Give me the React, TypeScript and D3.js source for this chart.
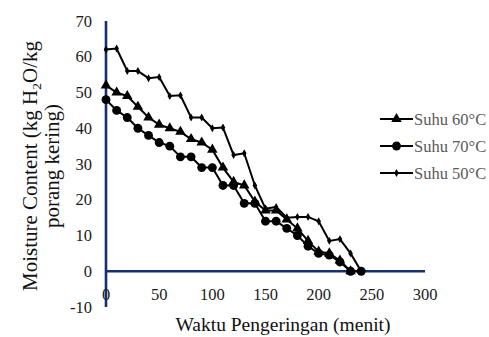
import React from "react";
import * as d3 from "d3";

const time60 = [0,10,20,30,40,50,60,70,80,90,100,110,120,130,140,150,160,170,180,190,200,210,220,230];
const suhu60 = [52,50,49,46,43,41,40,39,37,36,34,29,25,24,19.5,17,17,14.5,12,8.5,5.5,5,3,0];
const time70 = [0,10,20,30,40,50,60,70,80,90,100,110,120,130,140,150,160,170,180,190,200,210,220,230,240];
const suhu70 = [48,45,43,40,38,36,35,32,32,29,29,24,24,19,19,14,14,12,10,7,5,4.5,2.6,0,0];
const time50 = [0,10,20,30,40,50,60,70,80,90,100,110,120,130,140,150,160,170,180,190,200,210,220,230,240];
const suhu50 = [62,62.3,56,56,54,54.3,49,49.2,43,43,40,40.2,32.5,33,24,17.5,18,15,15.2,15.2,14,8.5,9,5,0];

const xTicks = [0,50,100,150,200,250,300];
const yTicks = [-10,0,10,20,30,40,50,60,70];
const seriesNames = ["Suhu 60°C","Suhu 70°C","Suhu 50°C"];

const W = 489, H = 337;
const x = d3.scaleLinear().domain([0,300]).range([106,425]);
const y = d3.scaleLinear().domain([-10,70]).range([307,21]);
const AXIS = "#15306e";
const FONT = "'Liberation Serif', 'Times New Roman', serif";

type S = { name: string; t: number[]; v: number[]; sym: d3.SymbolType; size: number };
const series: S[] = [
  { name: seriesNames[0], t: time60, v: suhu60, sym: d3.symbolTriangle, size: 48 },
  { name: seriesNames[1], t: time70, v: suhu70, sym: d3.symbolCircle, size: 62 },
  { name: seriesNames[2], t: time50, v: suhu50, sym: d3.symbolDiamond, size: 18 },
];

export default function App() {
  const line = d3.line<[number, number]>().x(d => x(d[0])).y(d => y(d[1]));
  return (
    <svg width={W} height={H} style={{ position: "absolute", left: 0, top: 0, background: "#fff", fontFamily: FONT }}>
      {/* axes */}
      <line x1={x(0)} x2={x(0)} y1={y(70)} y2={y(-10)} stroke={AXIS} strokeWidth={2.6} />
      <line x1={x(0)} x2={x(300)} y1={y(0)} y2={y(0)} stroke={AXIS} strokeWidth={2.4} />
      {yTicks.map(t => (
        <text key={"y"+t} x={92} y={y(t)} textAnchor="end" dominantBaseline="central" fontSize={16.5} fill="#1a1a1a">{t}</text>
      ))}
      {xTicks.map(t => (
        <text key={"x"+t} x={x(t)} y={294} textAnchor="middle" dominantBaseline="central" fontSize={16.5} fill="#1a1a1a">{t}</text>
      ))}
      <text x={283} y={331} textAnchor="middle" fontSize={19.5} fill="#111">Waktu Pengeringan (menit)</text>
      <g transform="translate(37,166) rotate(-90)">
        <text x={0} y={0} textAnchor="middle" fontSize={21} fill="#111">
          Moisture Content (kg H<tspan fontSize={13.5} baselineShift="-4">2</tspan>O/kg
        </text>
        <text x={0} y={22} textAnchor="middle" fontSize={21} fill="#111">porang kering)</text>
      </g>
      {/* series */}
      {series.map(s => {
        const pts = s.t.map((t, i) => [t, s.v[i]] as [number, number]);
        const sym = d3.symbol().type(s.sym).size(s.size)();
        return (
          <g key={s.name}>
            <path d={line(pts) || ""} fill="none" stroke="#000" strokeWidth={2} />
            {pts.map((p, i) => (
              <path key={i} d={sym || ""} transform={`translate(${x(p[0])},${y(p[1])})`} fill="#000" />
            ))}
          </g>
        );
      })}
      {/* legend */}
      {series.map((s, i) => {
        const ly = 119 + i * 27;
        const sym = d3.symbol().type(s.sym).size(s.size)();
        return (
          <g key={"l"+s.name}>
            <line x1={380} x2={413} y1={ly} y2={ly} stroke="#000" strokeWidth={2} />
            <path d={sym || ""} transform={`translate(396.5,${ly})`} fill="#000" />
            <text x={414} y={ly} dominantBaseline="central" fontSize={16.5} fill="#595959">{s.name}</text>
          </g>
        );
      })}
    </svg>
  );
}
